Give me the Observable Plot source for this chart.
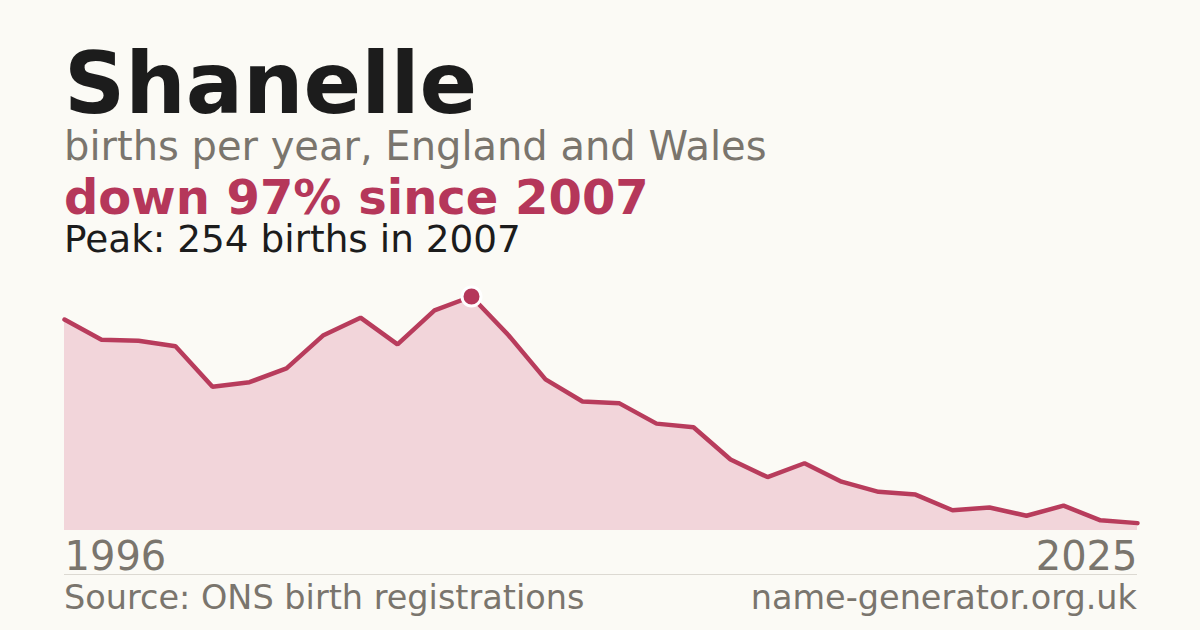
<!DOCTYPE html>
<html>
<head>
<meta charset="utf-8">
<script src="https://cdn.jsdelivr.net/npm/d3@7"></script>
<script src="https://cdn.jsdelivr.net/npm/@observablehq/plot@0.6"></script>
<style>
  html, body { margin: 0; padding: 0; }
  body { width: 1200px; height: 630px; background: #fbfaf5; position: relative; overflow: hidden; font-family: "DejaVu Sans", sans-serif; }
  .t { position: absolute; white-space: nowrap; line-height: 0.8; }
  #chart { position: absolute; left: 0; top: 270px; }
</style>
</head>
<body>
<div class="t" style="left:64px; top:49.6px; font-size:85px; font-weight:bold; color:#1c1c1c;">Shanelle</div>
<div class="t" style="left:64px; top:130.2px; font-size:40px; color:#7a756d;">births per year, England and Wales</div>
<div class="t" style="left:64px; top:178.2px; font-size:48px; font-weight:bold; color:#b5375a;">down 97% since 2007</div>
<div class="t" style="left:64px; top:225.1px; font-size:37.4px; color:#1c1c1c;">Peak: 254 births in 2007</div>
<div id="chart"></div>
<div style="position:absolute; left:64px; top:574px; width:1073px; height:1px; background:#dcd9d2;"></div>
<div class="t" style="left:64px; top:585px; font-size:33.5px; color:#7a756d;">Source: ONS birth registrations</div>
<div class="t" style="right:63px; top:585px; font-size:33.5px; color:#7a756d; text-align:right;">name-generator.org.uk</div>
<script>
const years = d3.range(1996, 2026);
const births = [229, 207, 206, 200, 156, 161, 176, 212, 231, 202, 239, 254, 212, 164, 140, 138, 116, 112, 77, 58, 73, 53, 42, 39, 22, 25, 16, 27, 11, 8];
const peakYear = 2007;
const peakBirths = 254;
const firstLabel = [1996];
const lastLabel = [2025];

const data = years.map((year, i) => ({year, births: births[i]}));

const chart = Plot.plot({
  width: 1200,
  height: 310,
  marginLeft: 64,
  marginRight: 63,
  marginTop: 26,
  marginBottom: 50,
  style: {background: "transparent", fontFamily: "DejaVu Sans, sans-serif"},
  x: {domain: [1996, 2025], axis: null},
  y: {domain: [0, peakBirths], axis: null},
  marks: [
    Plot.areaY(data, {x: "year", y: "births", fill: "#f2d5da"}),
    Plot.lineY(data, {x: "year", y: "births", stroke: "#b83c5c", strokeWidth: 4.5, strokeLinejoin: "miter"}),
    Plot.dot([{year: peakYear, births: peakBirths}], {x: "year", y: "births", r: 9.5, fill: "#b5375a", stroke: "white", strokeWidth: 3}),
    Plot.text(firstLabel, {x: d => d, y: 0, text: d => String(d), textAnchor: "start", lineAnchor: "top", dy: 11, fontSize: 40, fill: "#7a756d"}),
    Plot.text(lastLabel, {x: d => d, y: 0, text: d => String(d), textAnchor: "end", lineAnchor: "top", dy: 11, fontSize: 40, fill: "#7a756d"})
  ]
});
document.getElementById("chart").appendChild(chart);
</script>
</body>
</html>
